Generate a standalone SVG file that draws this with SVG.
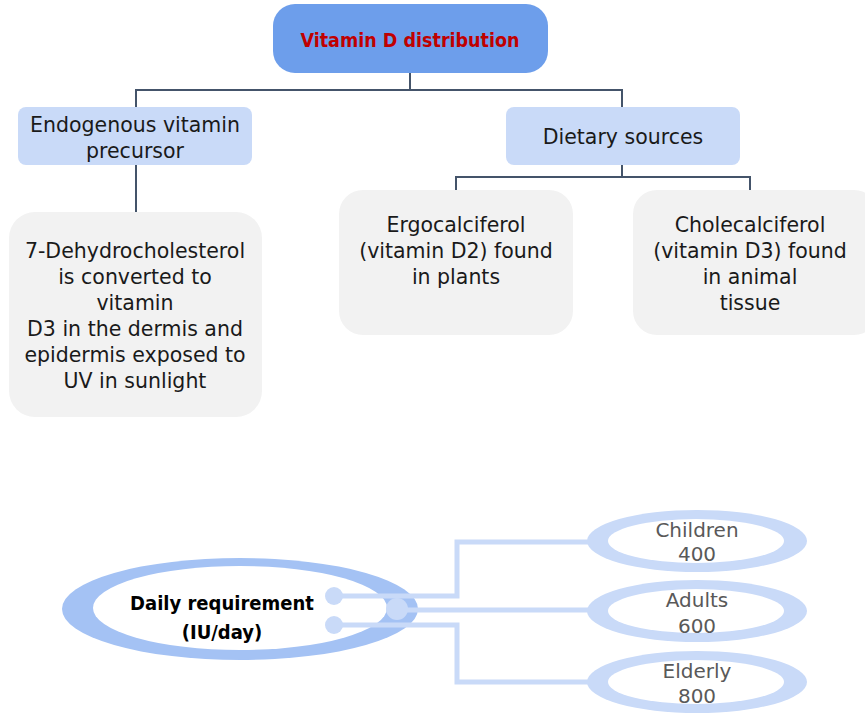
<svg xmlns="http://www.w3.org/2000/svg" width="865" height="714" viewBox="0 0 865 714">
<style>
  text { font-family: "DejaVu Sans", "Liberation Sans", sans-serif; text-anchor: middle; }
  .t { font-size: 20.5px; fill: #1a1a1a; }
  .g { font-size: 20px; fill: #595959; }
  .b { font-family: "DejaVu Sans Condensed", "DejaVu Sans", sans-serif; font-stretch: condensed; font-size: 20px; font-weight: bold; fill: #000; }
  .title { font-family: "DejaVu Sans Condensed", "DejaVu Sans", sans-serif; font-stretch: condensed; font-size: 19.5px; font-weight: bold; fill: #C00000; }
  .tree { fill: none; stroke: #44546A; stroke-width: 2; }
  .lnk { fill: none; stroke: #C9DAF8; stroke-width: 5; }
  .blue { fill: #C9DAF8; }
  .gray { fill: #F2F2F2; }
</style>
<g id="title">
  <rect x="273" y="4" width="275" height="69" rx="22" fill="#6D9EEB"/>
  <text class="title" x="410" y="47">Vitamin D distribution</text>
</g>
<g id="endogenous">
  <rect x="18" y="107" width="234" height="58" rx="8" class="blue"/>
  <text class="t" x="135" y="132">Endogenous vitamin</text>
  <text class="t" x="135" y="158">precursor</text>
</g>
<g id="dietary">
  <rect x="506" y="107" width="234" height="58" rx="8" class="blue"/>
  <text class="t" x="623" y="144">Dietary sources</text>
</g>
<g id="dehydro">
  <rect x="9" y="212" width="253" height="205" rx="26" class="gray"/>
  <text class="t" x="135" y="258">7-Dehydrocholesterol</text>
  <text class="t" x="135" y="284">is converted to</text>
  <text class="t" x="135" y="310">vitamin</text>
  <text class="t" x="135" y="336">D3 in the dermis and</text>
  <text class="t" x="135" y="362">epidermis exposed to</text>
  <text class="t" x="135" y="388">UV in sunlight</text>
</g>
<g id="ergo">
  <rect x="339" y="190" width="234" height="145" rx="24" class="gray"/>
  <text class="t" x="456" y="232">Ergocalciferol</text>
  <text class="t" x="456" y="258">(vitamin D2) found</text>
  <text class="t" x="456" y="284">in plants</text>
</g>
<g id="chole">
  <rect x="633" y="190" width="245" height="145" rx="24" class="gray"/>
  <text class="t" x="750" y="232">Cholecalciferol</text>
  <text class="t" x="750" y="258">(vitamin D3) found</text>
  <text class="t" x="750" y="284">in animal</text>
  <text class="t" x="750" y="310">tissue</text>
</g>
<g id="daily">
  <ellipse cx="240" cy="609" rx="178" ry="51" fill="#A4C2F4"/>
  <ellipse cx="240" cy="608" rx="147" ry="42" fill="#fff"/>
  <text class="b" x="222" y="610">Daily requirement</text>
  <text class="b" x="222" y="639">(IU/day)</text>
</g>
<g id="children">
  <ellipse cx="697" cy="541" rx="110" ry="31" class="blue"/>
  <ellipse cx="696" cy="541" rx="88" ry="22" fill="#fff"/>
  <text class="g" x="697" y="537">Children</text>
  <text class="g" x="697" y="561">400</text>
</g>
<g id="adults">
  <ellipse cx="697" cy="611" rx="110" ry="31" class="blue"/>
  <ellipse cx="696" cy="611" rx="88" ry="22" fill="#fff"/>
  <text class="g" x="697" y="607">Adults</text>
  <text class="g" x="697" y="633">600</text>
</g>
<g id="elderly">
  <ellipse cx="697" cy="682" rx="110" ry="31" class="blue"/>
  <ellipse cx="696" cy="682" rx="88" ry="22" fill="#fff"/>
  <text class="g" x="697" y="678">Elderly</text>
  <text class="g" x="697" y="703">800</text>
</g>
<g id="connectors">
  <path class="tree" d="M410 73 V90 M136 107 V90 H622 V107 M136 165 V212 M622 165 V177 M456 190 V177 H750 V190"/>
  <path class="lnk" d="M334 596 H457 V542 H590 M397 610 H590 M334 625 H457 V682 H590"/>
  <circle cx="334" cy="596" r="9" class="blue"/>
  <circle cx="334" cy="625" r="9" class="blue"/>
  <circle cx="397" cy="609" r="11" class="blue"/>
</g>
</svg>
